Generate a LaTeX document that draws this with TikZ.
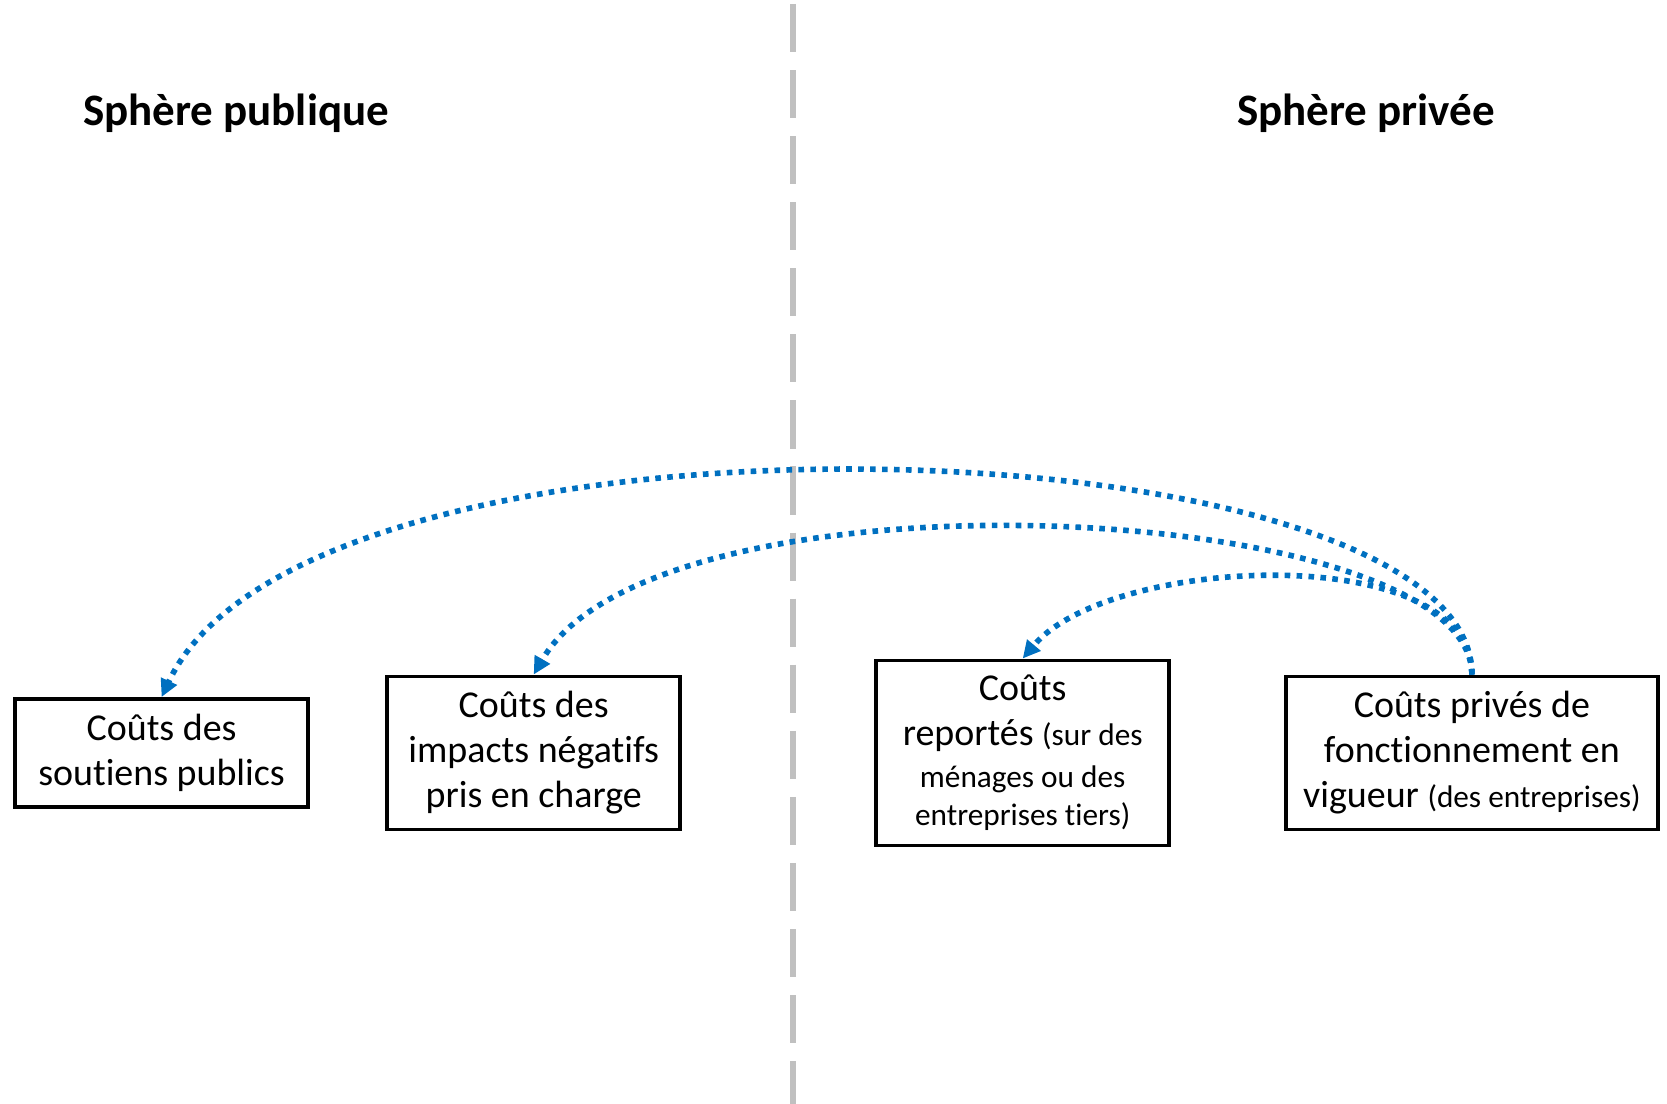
\documentclass[tikz,border=0pt]{standalone}
\usepackage{fontspec}
\setmainfont[Ligatures=NoCommon]{Carlito}
\usepackage{tikz}
\usetikzlibrary{arrows.meta}

\definecolor{bleufleche}{RGB}{0,112,192}
\definecolor{grisligne}{RGB}{192,192,192}

\newcommand{\petit}{\fontsize{8.9}{10.9}\selectfont}

\begin{document}
\begin{tikzpicture}[
	boite/.style={draw, line width=1.1pt, align=center, inner sep=0pt,
		font=\fontsize{10.8}{12.8}\selectfont},
	titre/.style={font=\fontsize{12.8}{15}\selectfont\bfseries},
	fleche/.style={draw=bleufleche, line width=1.6pt, line cap=butt,
		dash pattern=on 1.6pt off 1.8pt,
		-{Triangle[length=5pt,width=4.8pt,fill=bleufleche]}},
	separation/.style={draw=grisligne, line width=1.5pt,
		dash pattern=on 13.7pt off 5.1pt}
	]
	\useasboundingbox (0,0) rectangle (16.67,11.04);
	
	%titles
	\node[titre] (publique) at (2.36,9.91)  {Sphère publique};
	\node[titre] (privee)   at (13.66,9.91) {Sphère privée};
	
	%divider
	\coordinate (haut) at (7.93,11.0);
	\coordinate (bas)  at (7.93,0);
	\draw[separation] (haut)--(bas);
	
	%boxes
	\node[boite, minimum width=2.93cm, minimum height=1.08cm] (soutiens) at (1.616,3.51)
		{Coûts des\\soutiens publics};
	\node[boite, minimum width=2.93cm, minimum height=1.53cm] (impacts) at (5.337,3.51)
		{Coûts des\\impacts négatifs\\pris en charge};
	\node[boite, minimum width=2.93cm, minimum height=1.85cm] (reportes) at (10.227,3.51)
		{Coûts\\reportés {\petit(sur des}\\[-1pt]{\petit ménages ou des}\\[-1.9pt]{\petit entreprises tiers)}};
	\node[boite, minimum width=3.72cm, minimum height=1.53cm] (fonctionnement) at (14.719,3.51)
		{Coûts privés de\\fonctionnement en\\vigueur {\petit(des entreprises)}};
	
	%arrows
	\draw[fleche] (fonctionnement.north) to[out=90,in=65,out looseness=0.5,in looseness=0.68]  (soutiens.north);	%4--1
	\draw[fleche] (fonctionnement.north) to[out=90,in=60,out looseness=0.48,in looseness=0.68] (impacts.north);	%4--2
	\draw[fleche] (fonctionnement.north) to[out=90,in=50,looseness=0.77] (reportes.north);	%4--3
\end{tikzpicture}
\end{document}
